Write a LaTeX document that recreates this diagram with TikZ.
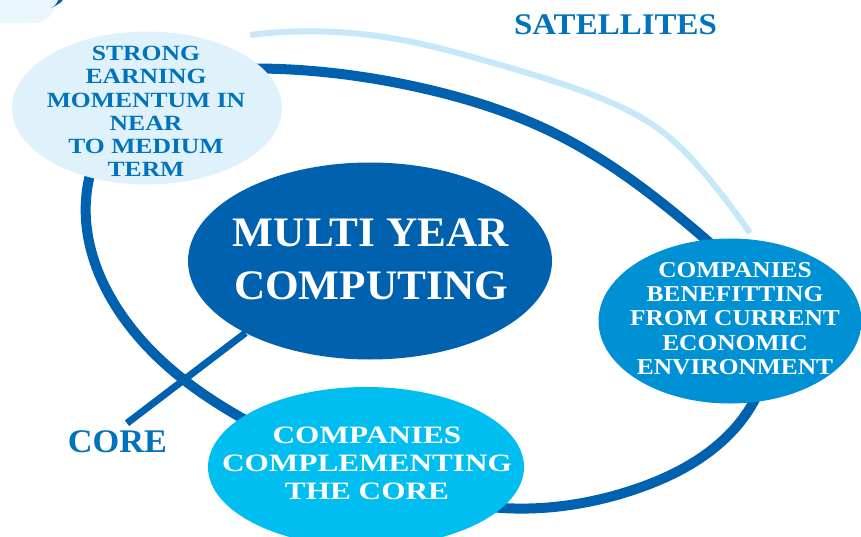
\documentclass[tikz,border=0pt]{standalone}
\usepackage{fontspec}
\setmainfont{Liberation Serif}
\usetikzlibrary{shapes.geometric,hobby}

\definecolor{coreblue}{HTML}{0061AE}
\definecolor{textblue}{HTML}{0073BC}
\definecolor{paleblue}{HTML}{DFF1FA}
\definecolor{midblue}{HTML}{0091D5}
\definecolor{skyblue}{HTML}{00BEF0}
\definecolor{satblue}{HTML}{C6E8F8}
\definecolor{cornerblue}{HTML}{EAF6FD}

\pgfdeclarelayer{background}
\pgfsetlayers{background,main}

% bold caps, size / baseline / horizontal stretch
\newcommand{\capsfont}[3]{\bfseries\fontsize{#1}{#2}\selectfont\addfontfeature{FakeStretch=#3}}

\tikzset{
  bubble/.style={ellipse, inner sep=0pt, outer sep=0pt},
  bubtext/.style={align=center, inner sep=0pt, text=white},
  tag/.style={align=center, inner sep=0pt, text=textblue},
  orbit/.style={draw=coreblue, line width=10pt},
}

\begin{document}
\begin{tikzpicture}[x=1pt, y=-1pt]
  \clip (0,0) rectangle (861,537);

  % Bubbles
  \node[bubble, fill=paleblue, minimum width=270pt, minimum height=153pt] (seem) at (147,108) {};
  \node[bubble, fill=coreblue, minimum width=364pt, minimum height=197pt] (myc) at (370,261) {};
  \node[bubble, fill=midblue, minimum width=263pt, minimum height=165pt] (cbe) at (730,321) {};
  \node[bubble, fill=skyblue, minimum width=316pt, minimum height=160pt] (cct) at (366,467) {};

  % Texts inside the bubbles
  \node[tag, font=\capsfont{21.7}{23.3}{1.18}] (seemtxt) at (146,111.5)
    {STRONG\\EARNING\\MOMENTUM IN\\NEAR\\TO MEDIUM\\TERM};
  \node[bubtext, font=\capsfont{42}{53}{1.03}] (myctxt) at (371,259)
    {MULTI YEAR\\COMPUTING};
  \node[bubtext, font=\capsfont{22.7}{24.4}{1.12}] (cbetxt) at (735,318.5)
    {COMPANIES\\BENEFITTING\\FROM CURRENT\\ECONOMIC\\ENVIRONMENT};
  \node[bubtext, font=\capsfont{25}{28}{1.25}] (ccttxt) at (367,463.5)
    {COMPANIES\\COMPLEMENTING\\THE CORE};

  % Outside labels
  \node[tag, font=\capsfont{30}{32}{1.1}] (sat) at (615.5,25) {SATELLITES};
  \node[tag, font=\capsfont{33}{35}{1.04}] (core) at (117.5,441.5) {CORE};
  \coordinate (coretip) at ([xshift=9.5pt, yshift=7pt]core.north);

  \begin{pgfonlayer}{background}
    % corner piece
    \fill[cornerblue, rounded corners=22pt] (-40,-40) rectangle (56,23);
    \fill[coreblue] (51,8) .. controls (56,5) .. (59,-2) -- (64,-2) .. controls (61,3) .. (51,8) -- cycle;
    % satellite orbit
    \draw[draw=satblue, line width=6pt, use Hobby shortcut]
      (250,35) .. (350,33) .. (417,43) .. (483,60) .. (550,80) .. (610,102)
      .. (660,130) .. (710,180) .. (750,233);
    % core orbit
    \draw[orbit, use Hobby shortcut, closed=true]
      (87,190) .. (140,100) .. (280,69) .. (417,87) .. (560,136) .. (703,237)
      .. (766,320) .. (753,403) .. (633,490) .. (490,507) .. (360,472)
      .. (240,417) .. (123,317);
    % pointer from the core label
    \draw[coreblue, line width=7pt] (coretip) -- (myc.210);
  \end{pgfonlayer}
\end{tikzpicture}
\end{document}
